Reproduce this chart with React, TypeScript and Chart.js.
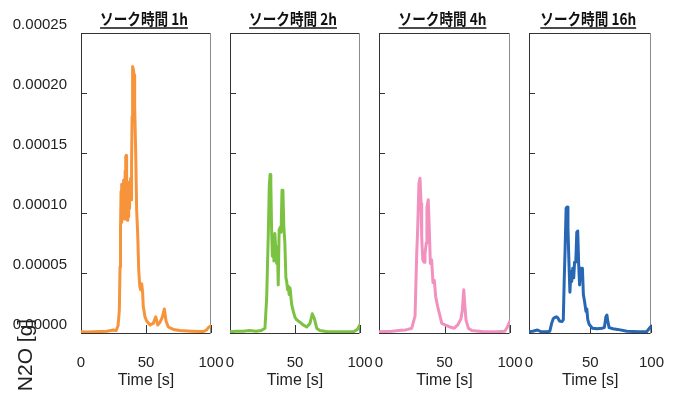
import React, { useEffect, useRef } from "react";
import { Chart, registerables } from "chart.js";

Chart.register(...registerables);

const CANVAS_W = 685;
const CANVAS_H = 394;

// ---- text ----
const panelTitles = ["ソーク時間 1h", "ソーク時間 2h", "ソーク時間 4h", "ソーク時間 16h"];
const xAxisTitle = "Time [s]";
const yAxisTitle = "N2O [g]";

// ---- axes ----
const xMin = 0;
const xMax = 100;
const xStep = 50;
const yMin = 0;
const yMax = 0.00025;
const yStep = 0.00005;
const valueUnit = 1e-5; // series values below are in units of 1e-5 g

// ---- series (time [s], N2O ×1e-5 g) ----
const time1 = [0, 5, 10, 15, 20, 24.9, 27, 28.5, 29.5, 30, 30.4, 30.8, 31.1, 31.5, 31.8, 32.1, 32.5, 32.8, 33.2, 33.6, 34.0, 34.4, 34.8, 35.1, 35.6, 36.0, 36.4, 36.7, 37.0, 37.4, 37.9, 38.2, 38.5, 38.9, 39.3, 39.7, 40.2, 40.8, 41.3, 42.1, 42.8, 43.6, 44.4, 45.2, 45.9, 46.7, 47.4, 47.9, 49.2, 50.5, 53.1, 55.6, 57.5, 59, 60.8, 62.5, 64.1, 65.4, 67.2, 71, 76, 85, 94, 96.5, 98, 100];
const n2o1 = [0.1, 0.08, 0.1, 0.12, 0.15, 0.25, 0.2, 0.6, 1.9, 5.5, 8.6, 11.8, 9.2, 12.4, 10.5, 9.9, 12.2, 12.75, 9.5, 10.8, 13.5, 14.7, 14.8, 13.0, 9.4, 11.6, 9.7, 12.2, 10.4, 12.6, 11.5, 12.9, 11.1, 14.1, 18, 22.2, 22.0, 21.5, 18.9, 14.9, 10.25, 8.3, 5.25, 3.9, 3.6, 4.1, 3.4, 2.2, 1.35, 1.0, 0.67, 0.8, 1.35, 0.67, 0.9, 1.3, 2.0, 1.0, 0.5, 0.3, 0.2, 0.15, 0.12, 0.25, 0.45, 0.6];

const time2 = [0, 5, 10, 15, 20, 24, 26.9, 28.2, 29.5, 30.2, 30.8, 31.4, 32.0, 32.6, 33.2, 33.8, 34.5, 35.2, 35.9, 36.5, 37.1, 37.8, 38.6, 39.3, 40.0, 40.7, 41.4, 42.2, 43.0, 43.6, 44.3, 44.9, 45.5, 46.2, 47.4, 48.7, 50, 51.3, 53.8, 56, 59, 61.5, 63.3, 64.9, 66.7, 69.2, 75, 85, 95, 98, 100];
const n2o2 = [0.1, 0.15, 0.15, 0.2, 0.15, 0.2, 0.4, 2.9, 8.4, 12.2, 13.2, 12.5, 8.6, 6.4, 8.0, 6.0, 8.3, 7.0, 5.8, 7.2, 4.0, 8.6, 8.8, 8.4, 11.9, 11.8, 8.9, 7.5, 4.6, 4.3, 3.6, 3.9, 3.2, 3.75, 2.4, 1.8, 1.3, 1.1, 0.9, 0.7, 0.5, 0.8, 1.6, 1.2, 0.4, 0.2, 0.1, 0.1, 0.1, 0.3, 0.7];

const time3 = [0, 5, 10, 15, 20, 22, 25, 27.5, 28.8, 29.5, 30.5, 31.3, 32.1, 32.6, 33.4, 34.4, 35.1, 36.1, 36.6, 37.6, 38.4, 39.2, 40.2, 41.2, 42.2, 43.3, 44.8, 46.6, 47.9, 50.4, 54.2, 57.5, 60.1, 62.6, 63.6, 64.7, 65.4, 66.4, 68.2, 70.8, 80, 90, 96, 98, 100];
const n2o3 = [0.1, 0.12, 0.15, 0.2, 0.25, 0.3, 0.4, 1.4, 6.6, 8.6, 12.5, 12.9, 10.8, 8.0, 6.1, 5.9, 6.6, 7.5, 10.5, 11.1, 8.6, 5.8, 6.1, 4.2, 4.4, 3.0, 2.2, 1.4, 0.8, 0.67, 0.5, 0.4, 0.67, 1.2, 1.9, 3.6, 2.5, 1.1, 0.4, 0.2, 0.1, 0.1, 0.15, 0.5, 1.0];

const time4 = [0, 3, 6.9, 10, 15, 17, 18.5, 19.8, 21.1, 22.3, 23.6, 24.9, 26.9, 28, 28.8, 29.5, 30.3, 31.1, 31.8, 32.6, 33.4, 34.2, 34.9, 35.7, 36.5, 37.2, 38.2, 39, 39.8, 40.5, 41.3, 42.1, 42.8, 43.6, 44.4, 45.4, 46.5, 47.2, 48, 49.2, 51.8, 55.7, 59.5, 61.5, 62.8, 63.6, 64.4, 65.4, 68.5, 72.3, 80, 90, 96, 98, 100];
const n2o4 = [0.1, 0.15, 0.25, 0.1, 0.1, 0.15, 0.8, 1.2, 1.3, 1.35, 1.25, 1.0, 0.95, 1.1, 4.6, 7.1, 10.4, 10.5, 8.8, 5.9, 3.4, 5.1, 4.3, 5.4, 4.6, 5.9, 5.9, 8.4, 8.5, 5.9, 4.0, 5.4, 4.8, 5.4, 3.2, 2.6, 1.8, 2.0, 1.1, 0.7, 0.4, 0.35, 0.4, 0.45, 1.36, 1.5, 0.95, 0.45, 0.35, 0.3, 0.15, 0.1, 0.1, 0.35, 0.6];

const seriesTimes = [time1, time2, time3, time4];
const seriesValues = [n2o1, n2o2, n2o3, n2o4];
const seriesColors = ["#F7933B", "#7CC242", "#F291BF", "#2767B4"];

// ---- layout (plot box left/right edges, top/bottom) ----
const panelEdges = [
  [81, 211],
  [230, 360],
  [379, 510],
  [529, 659],
];
const PLOT_TOP = 33;
const PLOT_BOTTOM = 333;

const NUM_FONT = "'Liberation Sans', Arial, sans-serif";
const TEXT_COLOR = "#222";

const panelDecor = {
  id: "panelDecor",
  beforeDatasetsDraw(chart: any) {
    const { ctx, chartArea } = chart;
    const { left, right, top, bottom } = chartArea;
    const xs = chart.scales.x;
    const ys = chart.scales.y;
    ctx.save();
    ctx.lineWidth = 1;
    const l = Math.round(left) + 0.5;
    const r = Math.round(right) - 0.5;
    const t = Math.round(top) + 0.5;
    const b = Math.round(bottom) + 0.5;
    ctx.strokeStyle = "#333";
    ctx.beginPath();
    ctx.moveTo(r, t);
    ctx.lineTo(l, t);
    ctx.lineTo(l, b);
    ctx.lineTo(r, b);
    ctx.stroke();
    ctx.strokeStyle = "#8c8c8c";
    ctx.beginPath();
    ctx.moveTo(r, t);
    ctx.lineTo(r, b);
    ctx.stroke();
    // inward tick marks
    ctx.strokeStyle = "#333";
    ctx.beginPath();
    ys.ticks.forEach((tk: any) => {
      const py = Math.round(ys.getPixelForValue(tk.value)) + 0.5;
      ctx.moveTo(left, py);
      ctx.lineTo(left + 6, py);
    });
    xs.ticks.forEach((tk: any) => {
      const px = Math.round(xs.getPixelForValue(tk.value)) + 0.5;
      ctx.moveTo(px, bottom);
      ctx.lineTo(px, bottom - 8);
    });
    ctx.stroke();
    ctx.restore();
  },
  afterDraw(chart: any, _args: any, opts: any) {
    const { ctx, chartArea } = chart;
    const cx = (chartArea.left + chartArea.right) / 2 - 2;
    ctx.save();
    // panel title: bold, condensed, underlined
    ctx.font = "bold 16px 'Noto Sans CJK JP', sans-serif";
    ctx.fillStyle = "#111";
    ctx.textBaseline = "middle";
    ctx.textAlign = "center";
    const sx = 0.85;
    const w = ctx.measureText(opts.title).width * sx;
    ctx.save();
    ctx.translate(cx, 19);
    ctx.scale(sx, 1);
    ctx.fillText(opts.title, 0, 0);
    ctx.restore();
    ctx.strokeStyle = "#111";
    ctx.lineWidth = 1.5;
    ctx.beginPath();
    ctx.moveTo(cx - w / 2, 28);
    ctx.lineTo(cx + w / 2, 28);
    ctx.stroke();
    // y axis title (first panel only)
    if (opts.showYTitle) {
      ctx.save();
      ctx.translate(26, 355);
      ctx.rotate(-Math.PI / 2);
      ctx.font = `21px ${NUM_FONT}`;
      ctx.fillStyle = TEXT_COLOR;
      ctx.textAlign = "center";
      ctx.textBaseline = "middle";
      ctx.fillText(yAxisTitle, 0, 0);
      ctx.restore();
    }
    ctx.restore();
  },
};

function makeConfig(i: number): any {
  const [L, R] = panelEdges[i];
  const times = seriesTimes[i];
  const vals = seriesValues[i];
  return {
    type: "line",
    data: {
      datasets: [
        {
          data: times.map((t, k) => ({ x: t, y: vals[k] * valueUnit })),
          borderColor: seriesColors[i],
          borderWidth: 3,
          borderJoinStyle: "round",
          borderCapStyle: "round",
          pointRadius: 0,
          tension: 0,
          fill: false,
        },
      ],
    },
    options: {
      animation: false,
      responsive: false,
      events: [],
      layout: { padding: { left: 0, right: CANVAS_W - R, top: PLOT_TOP, bottom: 0 } },
      plugins: {
        legend: { display: false },
        tooltip: { enabled: false },
        title: { display: false },
        panelDecor: { title: panelTitles[i], showYTitle: i === 0 },
      },
      scales: {
        x: {
          type: "linear",
          min: xMin,
          max: xMax,
          grid: { display: false, drawTicks: false },
          border: { display: false },
          ticks: {
            stepSize: xStep,
            padding: 21,
            maxRotation: 0,
            color: TEXT_COLOR,
            font: { family: NUM_FONT, size: 15 },
          },
          title: {
            display: true,
            text: xAxisTitle,
            color: TEXT_COLOR,
            font: { family: NUM_FONT, size: 16 },
            padding: { top: 0, bottom: 4 },
          },
          afterFit: (s: any) => {
            s.height = CANVAS_H - PLOT_BOTTOM;
          },
        },
        y: {
          type: "linear",
          min: yMin,
          max: yMax,
          grid: { display: false, drawTicks: false },
          border: { display: false },
          ticks: {
            display: i === 0,
            stepSize: yStep,
            padding: 14,
            labelOffset: -8,
            color: TEXT_COLOR,
            font: { family: NUM_FONT, size: 15 },
            callback: (v: any) => Number(v).toFixed(5),
          },
          afterFit: (s: any) => {
            s.width = L;
          },
        },
      },
    },
    plugins: [panelDecor],
  };
}

function Panel({ index }: { index: number }) {
  const ref = useRef<HTMLCanvasElement | null>(null);
  useEffect(() => {
    if (!ref.current) return;
    const chart = new Chart(ref.current, makeConfig(index));
    return () => chart.destroy();
  }, [index]);
  return (
    <canvas
      ref={ref}
      width={CANVAS_W}
      height={CANVAS_H}
      style={{ position: "absolute", left: 0, top: 0, width: CANVAS_W, height: CANVAS_H }}
    />
  );
}

export default function App() {
  return (
    <div
      style={{
        position: "absolute",
        left: 0,
        top: 0,
        width: CANVAS_W,
        height: CANVAS_H,
        background: "#ffffff",
        overflow: "hidden",
      }}
    >
      {[0, 1, 2, 3].map((i) => (
        <Panel key={i} index={i} />
      ))}
    </div>
  );
}
